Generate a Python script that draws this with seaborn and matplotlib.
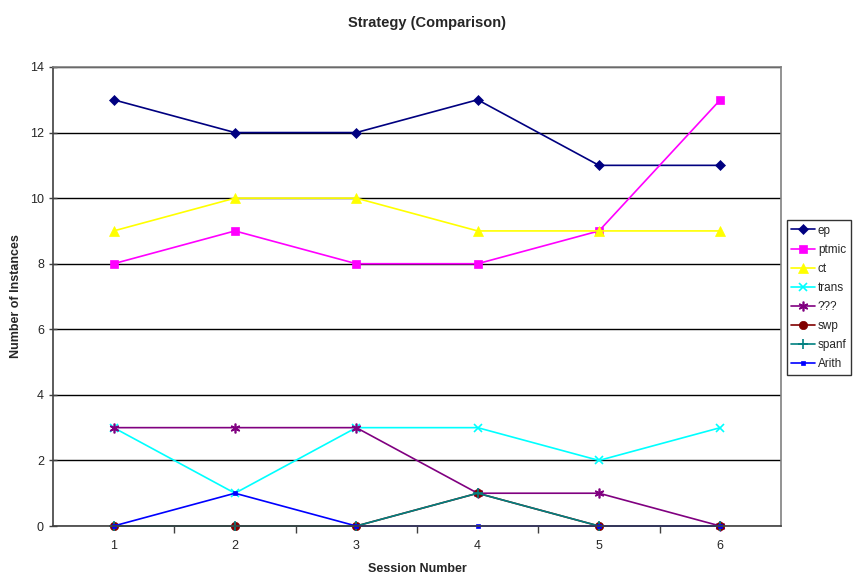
import matplotlib
matplotlib.use("Agg")
import matplotlib.pyplot as plt
import seaborn as sns
import pandas as pd

# data
sessions = [1, 2, 3, 4, 5, 6]
ep = [13, 12, 12, 13, 11, 11]
ptmic = [8, 9, 8, 8, 9, 13]
ct = [9, 10, 10, 9, 9, 9]
trans = [3, 1, 3, 3, 2, 3]
unknown = [3, 3, 3, 1, 1, 0]
swp = [0, 0, 0, 1, 0, 0]
spanf = [0, 0, 0, 1, 0, 0]
arith = [0, 1, 0, 0, 0, 0]

series_names = ["ep", "ptmic", "ct", "trans", "???", "swp", "spanf", "Arith"]
series_values = [ep, ptmic, ct, trans, unknown, swp, spanf, arith]

colors = ["#000080", "#FF00FF", "#FFFF00", "#00FFFF", "#800080", "#800000", "#008080", "#0000FF"]
markers = ["D", "s", "^", "x", (6, 2, 0), "o", "+", "s"]
msizes = [5, 6, 7, 6, 7, 6, 7, 3]

sns.set_theme(style="white")
plt.rcParams['font.family'] = ['Liberation Sans', 'DejaVu Sans']

fig = plt.figure(figsize=(8.54, 5.74), dpi=100)
ax = fig.add_axes([0.062, 0.0836, 0.8525, 0.7997])

for name, vals, c, m, ms in zip(series_names, series_values, colors, markers, msizes):
    df = pd.DataFrame({"Session": sessions, "Count": vals})
    sns.lineplot(data=df, x="Session", y="Count", ax=ax, color=c, marker=m,
                 markersize=ms, markeredgecolor=c,
                 markeredgewidth=1.2 if m in ("x", "+", (6, 2, 0)) else 0.5,
                 linewidth=1.2, label=name, clip_on=False)

ax.set_xlim(0.5, 6.5)
ax.set_ylim(0, 14)
ax.set_yticks(range(0, 15, 2))
ax.set_xticks(sessions)
ax.set_xticks([1.5, 2.5, 3.5, 4.5, 5.5], minor=True)
ax.yaxis.grid(True, color="black", linewidth=1)
ax.set_axisbelow(True)

for side in ["top", "right"]:
    ax.spines[side].set_color("#808080")
    ax.spines[side].set_linewidth(1.2)
for side in ["left", "bottom"]:
    ax.spines[side].set_color("#404040")
    ax.spines[side].set_linewidth(1.2)

ax.tick_params(axis="y", which="major", direction="inout", length=6, width=1, color="#404040",
               labelsize=9, left=True)
ax.tick_params(axis="x", which="major", length=0, labelsize=9, pad=10)
ax.tick_params(axis="x", which="minor", direction="out", length=5, width=1, color="#404040", bottom=True)

ax.set_xlabel("Session Number", fontsize=9, fontweight="bold", labelpad=8)
ax.set_ylabel("Number of Instances", fontsize=9, fontweight="bold", labelpad=6)
fig.suptitle("Strategy (Comparison)", fontsize=10.5, fontweight="bold", y=0.972)

leg = ax.legend(loc="upper left", bbox_to_anchor=(0.921, 0.617), bbox_transform=fig.transFigure,
                fontsize=8.5, frameon=True, fancybox=False, edgecolor="black",
                handlelength=2.0, labelspacing=0.6, borderpad=0.4, borderaxespad=0,
                handletextpad=0.25)
leg.get_frame().set_linewidth(1)

fig.savefig("out.png", dpi=100)
